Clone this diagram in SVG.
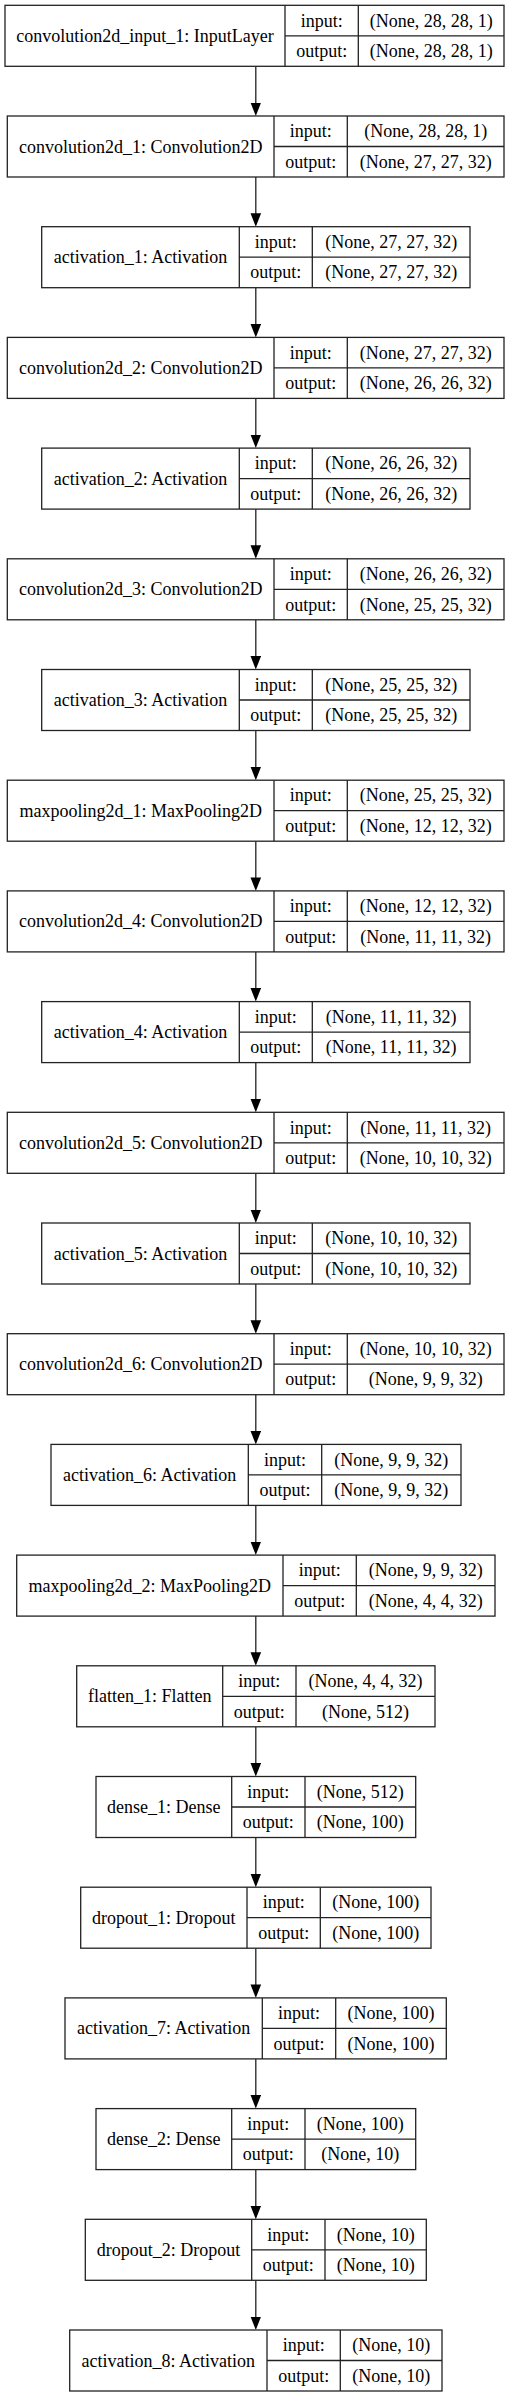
<svg xmlns="http://www.w3.org/2000/svg" width="512" height="2397" viewBox="0 0 512 2397">
<style>
rect{fill:#fff;stroke:#222;stroke-width:1.3}
.d{stroke:#222;stroke-width:1.3}
text{font-family:"Liberation Serif","Times New Roman",serif;font-size:18px;fill:#000;text-anchor:middle}
.e{stroke:#222;stroke-width:1.3;fill:none}
</style>
<defs>
<marker id="ah" markerUnits="userSpaceOnUse" markerWidth="14" markerHeight="11" refX="10.5" refY="5.3" orient="auto"><path d="M0,0 L13.5,5.3 L0,10.6 z" fill="#000"/></marker>
</defs>
<rect x="0" y="0" width="512" height="2397" style="fill:#fff;stroke:none"/>
<g id="connectors">
<path class="e" marker-end="url(#ah)" d="M255.8,66.3 V113"/>
<path class="e" marker-end="url(#ah)" d="M255.8,177 V223.7"/>
<path class="e" marker-end="url(#ah)" d="M255.8,287.7 V334.4"/>
<path class="e" marker-end="url(#ah)" d="M255.8,398.4 V445.1"/>
<path class="e" marker-end="url(#ah)" d="M255.8,509.1 V555.8"/>
<path class="e" marker-end="url(#ah)" d="M255.8,619.8 V666.5"/>
<path class="e" marker-end="url(#ah)" d="M255.8,730.5 V777.2"/>
<path class="e" marker-end="url(#ah)" d="M255.8,841.2 V887.9"/>
<path class="e" marker-end="url(#ah)" d="M255.8,951.9 V998.6"/>
<path class="e" marker-end="url(#ah)" d="M255.8,1062.6 V1109.3"/>
<path class="e" marker-end="url(#ah)" d="M255.8,1173.3 V1220"/>
<path class="e" marker-end="url(#ah)" d="M255.8,1284 V1330.7"/>
<path class="e" marker-end="url(#ah)" d="M255.8,1394.7 V1441.4"/>
<path class="e" marker-end="url(#ah)" d="M255.8,1505.4 V1552.1"/>
<path class="e" marker-end="url(#ah)" d="M255.8,1616.1 V1662.8"/>
<path class="e" marker-end="url(#ah)" d="M255.8,1726.8 V1773.5"/>
<path class="e" marker-end="url(#ah)" d="M255.8,1837.5 V1884.2"/>
<path class="e" marker-end="url(#ah)" d="M255.8,1948.2 V1994.9"/>
<path class="e" marker-end="url(#ah)" d="M255.8,2058.9 V2105.6"/>
<path class="e" marker-end="url(#ah)" d="M255.8,2169.6 V2216.3"/>
<path class="e" marker-end="url(#ah)" d="M255.8,2280.3 V2327"/>
</g>
<g id="n0" transform="translate(0,5.3)">
<rect x="5" y="0" width="499" height="61"/>
<path class="d" d="M285,0V61M358.3,0V61M285,30.5H504"/>
<text x="145" y="36.5">convolution2d_input_1: InputLayer</text>
<text x="321.65" y="21.25">input:</text><text x="321.65" y="51.75">output:</text>
<text x="431.15" y="21.25">(None, 28, 28, 1)</text><text x="431.15" y="51.75">(None, 28, 28, 1)</text>
</g>
<g id="n1" transform="translate(0,116)">
<rect x="7.3" y="0" width="496.7" height="61"/>
<path class="d" d="M274,0V61M347.3,0V61M274,30.5H504"/>
<text x="140.65" y="36.5">convolution2d_1: Convolution2D</text>
<text x="310.65" y="21.25">input:</text><text x="310.65" y="51.75">output:</text>
<text x="425.65" y="21.25">(None, 28, 28, 1)</text><text x="425.65" y="51.75">(None, 27, 27, 32)</text>
</g>
<g id="n2" transform="translate(0,226.7)">
<rect x="41.7" y="0" width="428.3" height="61"/>
<path class="d" d="M239.3,0V61M312.3,0V61M239.3,30.5H470"/>
<text x="140.5" y="36.5">activation_1: Activation</text>
<text x="275.8" y="21.25">input:</text><text x="275.8" y="51.75">output:</text>
<text x="391.15" y="21.25">(None, 27, 27, 32)</text><text x="391.15" y="51.75">(None, 27, 27, 32)</text>
</g>
<g id="n3" transform="translate(0,337.4)">
<rect x="7.3" y="0" width="496.7" height="61"/>
<path class="d" d="M274,0V61M347.3,0V61M274,30.5H504"/>
<text x="140.65" y="36.5">convolution2d_2: Convolution2D</text>
<text x="310.65" y="21.25">input:</text><text x="310.65" y="51.75">output:</text>
<text x="425.65" y="21.25">(None, 27, 27, 32)</text><text x="425.65" y="51.75">(None, 26, 26, 32)</text>
</g>
<g id="n4" transform="translate(0,448.1)">
<rect x="41.7" y="0" width="428.3" height="61"/>
<path class="d" d="M239.3,0V61M312.3,0V61M239.3,30.5H470"/>
<text x="140.5" y="36.5">activation_2: Activation</text>
<text x="275.8" y="21.25">input:</text><text x="275.8" y="51.75">output:</text>
<text x="391.15" y="21.25">(None, 26, 26, 32)</text><text x="391.15" y="51.75">(None, 26, 26, 32)</text>
</g>
<g id="n5" transform="translate(0,558.8)">
<rect x="7.3" y="0" width="496.7" height="61"/>
<path class="d" d="M274,0V61M347.3,0V61M274,30.5H504"/>
<text x="140.65" y="36.5">convolution2d_3: Convolution2D</text>
<text x="310.65" y="21.25">input:</text><text x="310.65" y="51.75">output:</text>
<text x="425.65" y="21.25">(None, 26, 26, 32)</text><text x="425.65" y="51.75">(None, 25, 25, 32)</text>
</g>
<g id="n6" transform="translate(0,669.5)">
<rect x="41.7" y="0" width="428.3" height="61"/>
<path class="d" d="M239.3,0V61M312.3,0V61M239.3,30.5H470"/>
<text x="140.5" y="36.5">activation_3: Activation</text>
<text x="275.8" y="21.25">input:</text><text x="275.8" y="51.75">output:</text>
<text x="391.15" y="21.25">(None, 25, 25, 32)</text><text x="391.15" y="51.75">(None, 25, 25, 32)</text>
</g>
<g id="n7" transform="translate(0,780.2)">
<rect x="7.3" y="0" width="496.7" height="61"/>
<path class="d" d="M274,0V61M347.3,0V61M274,30.5H504"/>
<text x="140.65" y="36.5">maxpooling2d_1: MaxPooling2D</text>
<text x="310.65" y="21.25">input:</text><text x="310.65" y="51.75">output:</text>
<text x="425.65" y="21.25">(None, 25, 25, 32)</text><text x="425.65" y="51.75">(None, 12, 12, 32)</text>
</g>
<g id="n8" transform="translate(0,890.9)">
<rect x="7.3" y="0" width="496.7" height="61"/>
<path class="d" d="M274,0V61M347.3,0V61M274,30.5H504"/>
<text x="140.65" y="36.5">convolution2d_4: Convolution2D</text>
<text x="310.65" y="21.25">input:</text><text x="310.65" y="51.75">output:</text>
<text x="425.65" y="21.25">(None, 12, 12, 32)</text><text x="425.65" y="51.75">(None, 11, 11, 32)</text>
</g>
<g id="n9" transform="translate(0,1001.6)">
<rect x="41.7" y="0" width="428.3" height="61"/>
<path class="d" d="M239.3,0V61M312.3,0V61M239.3,30.5H470"/>
<text x="140.5" y="36.5">activation_4: Activation</text>
<text x="275.8" y="21.25">input:</text><text x="275.8" y="51.75">output:</text>
<text x="391.15" y="21.25">(None, 11, 11, 32)</text><text x="391.15" y="51.75">(None, 11, 11, 32)</text>
</g>
<g id="n10" transform="translate(0,1112.3)">
<rect x="7.3" y="0" width="496.7" height="61"/>
<path class="d" d="M274,0V61M347.3,0V61M274,30.5H504"/>
<text x="140.65" y="36.5">convolution2d_5: Convolution2D</text>
<text x="310.65" y="21.25">input:</text><text x="310.65" y="51.75">output:</text>
<text x="425.65" y="21.25">(None, 11, 11, 32)</text><text x="425.65" y="51.75">(None, 10, 10, 32)</text>
</g>
<g id="n11" transform="translate(0,1223)">
<rect x="41.7" y="0" width="428.3" height="61"/>
<path class="d" d="M239.3,0V61M312.3,0V61M239.3,30.5H470"/>
<text x="140.5" y="36.5">activation_5: Activation</text>
<text x="275.8" y="21.25">input:</text><text x="275.8" y="51.75">output:</text>
<text x="391.15" y="21.25">(None, 10, 10, 32)</text><text x="391.15" y="51.75">(None, 10, 10, 32)</text>
</g>
<g id="n12" transform="translate(0,1333.7)">
<rect x="7.3" y="0" width="496.7" height="61"/>
<path class="d" d="M274,0V61M347.3,0V61M274,30.5H504"/>
<text x="140.65" y="36.5">convolution2d_6: Convolution2D</text>
<text x="310.65" y="21.25">input:</text><text x="310.65" y="51.75">output:</text>
<text x="425.65" y="21.25">(None, 10, 10, 32)</text><text x="425.65" y="51.75">(None, 9, 9, 32)</text>
</g>
<g id="n13" transform="translate(0,1444.4)">
<rect x="51" y="0" width="410" height="61"/>
<path class="d" d="M248.3,0V61M321.7,0V61M248.3,30.5H461"/>
<text x="149.65" y="36.5">activation_6: Activation</text>
<text x="285" y="21.25">input:</text><text x="285" y="51.75">output:</text>
<text x="391.35" y="21.25">(None, 9, 9, 32)</text><text x="391.35" y="51.75">(None, 9, 9, 32)</text>
</g>
<g id="n14" transform="translate(0,1555.1)">
<rect x="16.7" y="0" width="478.3" height="61"/>
<path class="d" d="M283,0V61M356.3,0V61M283,30.5H495"/>
<text x="149.85" y="36.5">maxpooling2d_2: MaxPooling2D</text>
<text x="319.65" y="21.25">input:</text><text x="319.65" y="51.75">output:</text>
<text x="425.65" y="21.25">(None, 9, 9, 32)</text><text x="425.65" y="51.75">(None, 4, 4, 32)</text>
</g>
<g id="n15" transform="translate(0,1665.8)">
<rect x="76.7" y="0" width="358.3" height="61"/>
<path class="d" d="M222.7,0V61M296,0V61M222.7,30.5H435"/>
<text x="149.7" y="36.5">flatten_1: Flatten</text>
<text x="259.35" y="21.25">input:</text><text x="259.35" y="51.75">output:</text>
<text x="365.5" y="21.25">(None, 4, 4, 32)</text><text x="365.5" y="51.75">(None, 512)</text>
</g>
<g id="n16" transform="translate(0,1776.5)">
<rect x="96" y="0" width="319.7" height="61"/>
<path class="d" d="M231.7,0V61M305,0V61M231.7,30.5H415.7"/>
<text x="163.85" y="36.5">dense_1: Dense</text>
<text x="268.35" y="21.25">input:</text><text x="268.35" y="51.75">output:</text>
<text x="360.35" y="21.25">(None, 512)</text><text x="360.35" y="51.75">(None, 100)</text>
</g>
<g id="n17" transform="translate(0,1887.2)">
<rect x="80.7" y="0" width="350.3" height="61"/>
<path class="d" d="M247,0V61M320.3,0V61M247,30.5H431"/>
<text x="163.85" y="36.5">dropout_1: Dropout</text>
<text x="283.65" y="21.25">input:</text><text x="283.65" y="51.75">output:</text>
<text x="375.65" y="21.25">(None, 100)</text><text x="375.65" y="51.75">(None, 100)</text>
</g>
<g id="n18" transform="translate(0,1997.9)">
<rect x="65" y="0" width="381.3" height="61"/>
<path class="d" d="M262.3,0V61M335.7,0V61M262.3,30.5H446.3"/>
<text x="163.65" y="36.5">activation_7: Activation</text>
<text x="299" y="21.25">input:</text><text x="299" y="51.75">output:</text>
<text x="391" y="21.25">(None, 100)</text><text x="391" y="51.75">(None, 100)</text>
</g>
<g id="n19" transform="translate(0,2108.6)">
<rect x="96" y="0" width="319.7" height="61"/>
<path class="d" d="M231.7,0V61M305,0V61M231.7,30.5H415.7"/>
<text x="163.85" y="36.5">dense_2: Dense</text>
<text x="268.35" y="21.25">input:</text><text x="268.35" y="51.75">output:</text>
<text x="360.35" y="21.25">(None, 100)</text><text x="360.35" y="51.75">(None, 10)</text>
</g>
<g id="n20" transform="translate(0,2219.3)">
<rect x="85.3" y="0" width="341" height="61"/>
<path class="d" d="M251.7,0V61M325,0V61M251.7,30.5H426.3"/>
<text x="168.5" y="36.5">dropout_2: Dropout</text>
<text x="288.35" y="21.25">input:</text><text x="288.35" y="51.75">output:</text>
<text x="375.65" y="21.25">(None, 10)</text><text x="375.65" y="51.75">(None, 10)</text>
</g>
<g id="n21" transform="translate(0,2330)">
<rect x="69.7" y="0" width="372.3" height="61"/>
<path class="d" d="M267,0V61M340.3,0V61M267,30.5H442"/>
<text x="168.35" y="36.5">activation_8: Activation</text>
<text x="303.65" y="21.25">input:</text><text x="303.65" y="51.75">output:</text>
<text x="391.15" y="21.25">(None, 10)</text><text x="391.15" y="51.75">(None, 10)</text>
</g>
</svg>
